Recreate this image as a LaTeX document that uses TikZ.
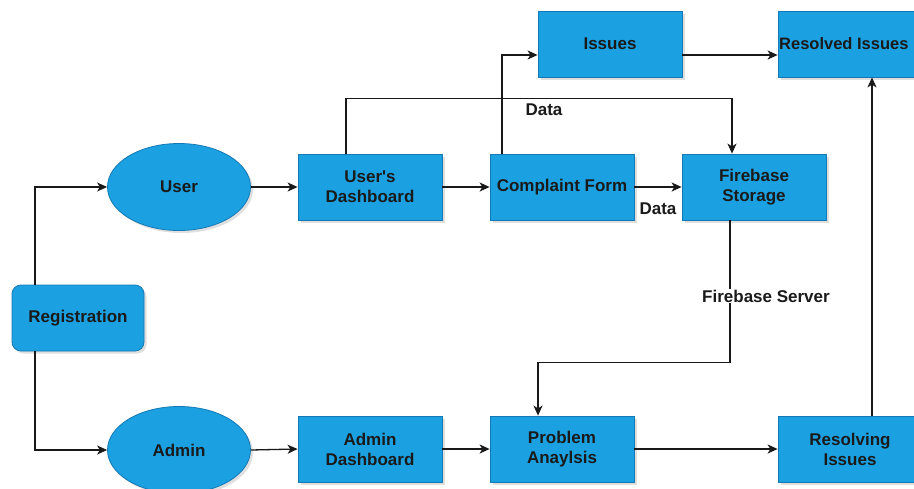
\documentclass[tikz,border=0pt]{standalone}
\usepackage{fontspec}
\setmainfont{Liberation Sans}
\usetikzlibrary{shapes.geometric,arrows.meta,shadows}
\definecolor{boxfill}{HTML}{1BA1E2}
\definecolor{boxline}{HTML}{1478B4}
\definecolor{txt}{HTML}{1A1A1A}
\tikzset{
  base/.style={fill=boxfill, draw=boxline, line width=0.8pt, text=txt,
    font=\fontsize{17pt}{20pt}\selectfont\bfseries, align=center, inner sep=0pt,
    drop shadow={opacity=0.25, shadow xshift=2.5pt, shadow yshift=-2.5pt}},
  procbox/.style={base, rectangle, minimum width=144pt, minimum height=66pt},
  actor/.style={base, ellipse, minimum width=143pt, minimum height=87pt},
  regbox/.style={base, rectangle, rounded corners=9pt, minimum width=132pt, minimum height=66pt},
  lbl/.style={text=txt, font=\fontsize{17pt}{20pt}\selectfont\bfseries, inner sep=1pt},
  arr/.style={draw=black!90, line width=1.3pt, -{Stealth[length=10pt,width=9pt,inset=2.8pt]}}
}
\begin{document}
\begin{tikzpicture}[x=1pt,y=-1pt]
\useasboundingbox (0,0) rectangle (914,488);
\clip (0,0) rectangle (914,488);
\fill[white] (0,0) rectangle (914,488);

\node[regbox] (reg) at (78,318) {Registration};
\node[actor] (user) at (179,187) {User};
\node[actor] (admin) at (179,450) {Admin};
\node[procbox] (ud) at (370,187) {User\textquotesingle s\\Dashboard};
\node[procbox] (cf) at (562,187) {Complaint Form};
\node[procbox] (fs) at (754,187) {Firebase\\Storage};
\node[procbox] (iss) at (610,44) {Issues};
\node[procbox] (res) at (850,44) {};
\node[text=txt, font=\fontsize{16.5pt}{20pt}\selectfont\bfseries, anchor=west, inner sep=0pt] (rest) at (779,44) {Resolved Issues};
\node[procbox] (ad) at (370,449) {Admin\\Dashboard};
\node[procbox] (pa) at (562,449) {Problem\\Anaylsis};
\node[procbox] (ri) at (850,449) {Resolving\\Issues};

\draw[arr] ([xshift=-43pt]reg.north) |- (user.west);
\draw[arr] ([xshift=-43pt]reg.south) |- (admin.west);
\draw[arr] (user.east) -- (ud.west);
\draw[arr] (ud.east) -- (cf.west);
\draw[arr] (cf.east) -- (fs.west);
\draw[arr] ([xshift=-24pt]ud.north) -- ++(0,-55) -| ([xshift=-22pt]fs.north);
\draw[arr] ([xshift=-60pt]cf.north) |- ([yshift=-11pt]iss.west);
\draw[arr] ([yshift=-11pt]iss.east) -- ([yshift=-11pt]res.west);
\draw[arr] ([xshift=-24pt]fs.south) -- ++(0,142) -| ([xshift=-24pt]pa.north);
\draw[arr] (admin.east) -- (ad.west);
\draw[arr] (ad.east) -- (pa.west);
\draw[arr] (pa.east) -- (ri.west);
\draw[arr] ([xshift=22pt]ri.north) -- ([xshift=22pt]res.south);

\node[lbl] (d1) at (544,110) {Data};
\node[lbl] (d2) at (658,209) {Data};
\node[lbl, fill=white] (fsv) at (766,296) {Firebase Server};
\end{tikzpicture}
\end{document}
